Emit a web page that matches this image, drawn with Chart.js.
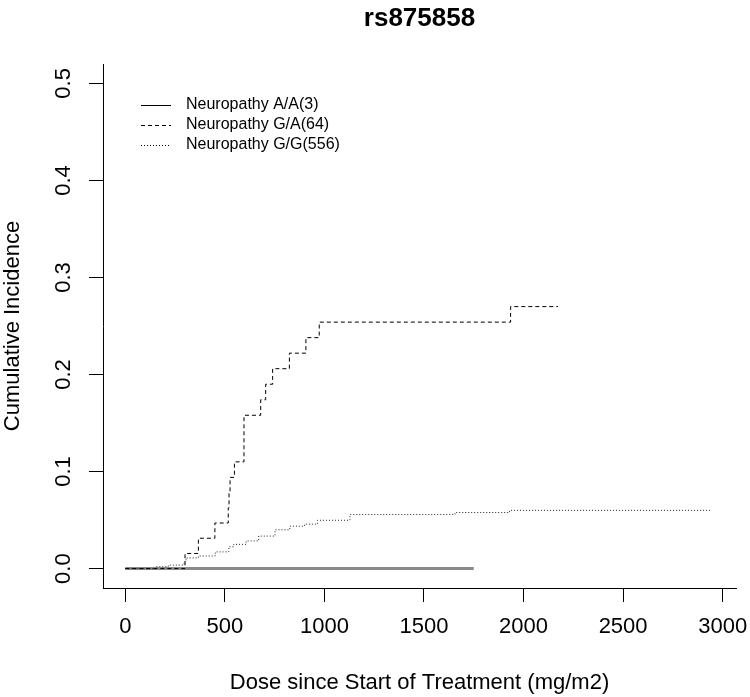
<!DOCTYPE html>
<html>
<head>
<meta charset="utf-8">
<script src="https://cdn.jsdelivr.net/npm/chart.js@4/dist/chart.umd.min.js"></script>
<style>
  body { margin: 0; background: #fff; }
  canvas { display: block; }
</style>
</head>
<body>
<canvas id="myChart" width="750" height="697"></canvas>
<script>
// data (dose in mg/m2, cumulative incidence)
var aaDose = [0, 1750];
var aaInc  = [0, 0];

var gaDose = [0, 300, 367, 450, 517, 521, 526, 548, 596, 680, 705, 740, 824, 907, 974, 1935, 2173];
var gaInc  = [0, 0.0156, 0.0313, 0.047, 0.0625, 0.078, 0.094, 0.110, 0.158, 0.174, 0.190, 0.206, 0.222, 0.238, 0.254, 0.270, 0.270];

var ggDose = [0, 155, 216, 295, 305, 367, 452, 520, 545, 607, 670, 752, 826, 900, 965, 1128, 1656, 1930, 2937];
var ggInc  = [0, 0.0020, 0.0036, 0.0070, 0.0110, 0.0130, 0.0172, 0.0225, 0.0250, 0.0285, 0.0335, 0.0400, 0.0437, 0.0458, 0.0498, 0.0557, 0.0578, 0.0600, 0.0600];

var seriesNames = ["Neuropathy A/A(3)", "Neuropathy G/A(64)", "Neuropathy G/G(556)"];
var xTicks = [0, 500, 1000, 1500, 2000, 2500, 3000];
var yTicks = [0, 0.1, 0.2, 0.3, 0.4, 0.5];
var chartTitle = "rs875858";

var FONT = "'Liberation Sans', Arial, Helvetica, sans-serif";

function pts(xs, ys) {
    return xs.map(function (x, i) { return { x: x, y: ys[i] }; });
}

Chart.defaults.color = '#000';
Chart.defaults.font.family = FONT;

// title centred over the plot region, like R does
var titlePlugin = {
    id: 'rTitle',
    afterDraw: function (chart) {
        var ctx = chart.ctx, a = chart.chartArea;
        ctx.save();
        ctx.font = 'bold 26px ' + FONT;
        ctx.fillStyle = '#000';
        ctx.textAlign = 'center';
        ctx.textBaseline = 'middle';
        ctx.fillText(chartTitle, (a.left + a.right) / 2, 19);
        ctx.restore();
    }
};

// boxless legend in the top-left corner
var legendPlugin = {
    id: 'rLegend',
    afterDraw: function (chart) {
        var ctx = chart.ctx;
        ctx.save();
        ctx.font = '16px ' + FONT;
        ctx.textBaseline = 'middle';
        ctx.textAlign = 'left';
        chart.data.datasets.forEach(function (ds, i) {
            var y = 105 + i * 20;
            ctx.beginPath();
            ctx.setLineDash(ds.legendDash);
            ctx.strokeStyle = '#000';
            ctx.lineWidth = 1;
            ctx.moveTo(141, y + 0.5);
            ctx.lineTo(171, y + 0.5);
            ctx.stroke();
            ctx.setLineDash([]);
            ctx.fillStyle = '#000';
            ctx.fillText(ds.label, 186, y);
        });
        ctx.restore();
    }
};

var ctx = document.getElementById('myChart').getContext('2d');
var chart = new Chart(ctx, {
    type: 'line',
    data: {
        datasets: [{
            label: seriesNames[0],
            data: pts(aaDose, aaInc),
            borderColor: '#8a8a8a',
            borderWidth: 3,
            stepped: true,
            order: 3,
            legendDash: []
        }, {
            label: seriesNames[1],
            data: pts(gaDose, gaInc),
            borderColor: '#000',
            borderWidth: 1,
            borderDash: [4, 3],
            stepped: true,
            order: 1,
            legendDash: [4, 3]
        }, {
            label: seriesNames[2],
            data: pts(ggDose, ggInc),
            borderColor: '#222',
            borderWidth: 1,
            borderDash: [1, 2],
            stepped: true,
            order: 2,
            legendDash: [1, 2]
        }]
    },
    plugins: [titlePlugin, legendPlugin],
    options: {
        responsive: false,
        animation: false,
        devicePixelRatio: 1,
        elements: { point: { radius: 0 }, line: { tension: 0, fill: false } },
        layout: { padding: { top: 64, right: 14, left: 0, bottom: 0 } },
        plugins: {
            legend: { display: false },
            title: { display: false },
            tooltip: { enabled: false }
        },
        scales: {
            x: {
                type: 'linear',
                min: -112,
                max: 3067,
                afterBuildTicks: function (s) { s.ticks = xTicks.map(function (v) { return { value: v }; }); },
                afterFit: function (s) { s.height = 109; s.paddingLeft = 0; s.paddingRight = 0; },
                grid: { drawOnChartArea: false, drawTicks: true, tickLength: 14, tickColor: '#000' },
                border: { display: true, color: '#000' },
                ticks: {
                    autoSkip: false,
                    maxRotation: 0,
                    padding: 12,
                    font: { size: 22 },
                    callback: function (v) { return String(v); }
                },
                title: {
                    display: true,
                    text: 'Dose since Start of Treatment (mg/m2)',
                    font: { size: 22 },
                    padding: { top: 0, bottom: 1 }
                }
            },
            y: {
                type: 'linear',
                min: -0.02,
                max: 0.52,
                afterBuildTicks: function (s) { s.ticks = yTicks.map(function (v) { return { value: v }; }); },
                afterFit: function (s) { s.width = 103; s.paddingTop = 0; s.paddingBottom = 0; },
                grid: { drawOnChartArea: false, drawTicks: true, tickLength: 14, tickColor: '#000' },
                border: { display: true, color: '#000' },
                ticks: {
                    autoSkip: false,
                    minRotation: 90,
                    maxRotation: 90,
                    crossAlign: 'center',
                    padding: 10,
                    font: { size: 22 },
                    callback: function (v) { return v.toFixed(1); }
                },
                title: {
                    display: true,
                    text: 'Cumulative Incidence',
                    font: { size: 22 },
                    padding: { top: 0, bottom: 0 }
                }
            }
        }
    }
});
</script>
</body>
</html>
